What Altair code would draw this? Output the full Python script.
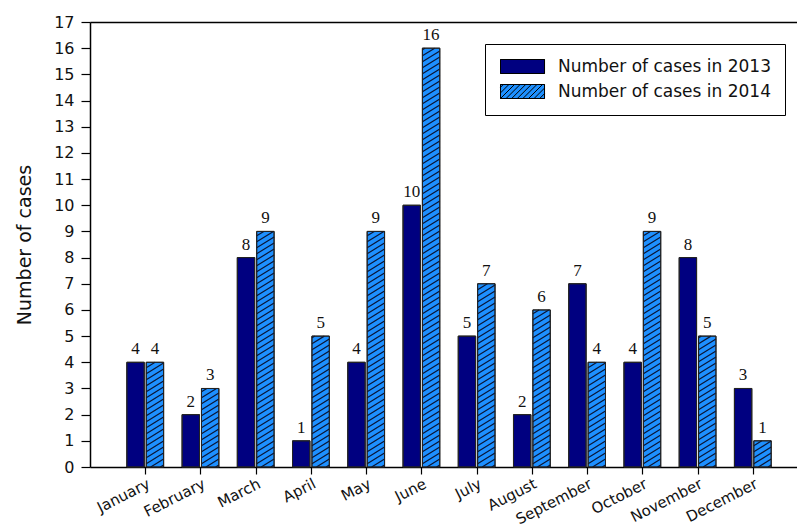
import json
import altair as alt
import pandas as pd

# ---------------- data ----------------
months = ["January", "February", "March", "April", "May", "June",
          "July", "August", "September", "October", "November", "December"]
cases_2013 = [4, 2, 8, 1, 4, 10, 5, 2, 7, 4, 8, 3]
cases_2014 = [4, 3, 9, 5, 9, 16, 7, 6, 4, 9, 5, 1]
series_names = ["Number of cases in 2013", "Number of cases in 2014"]
y_ticks = list(range(0, 18))

# ---------------- layout ----------------
W, H = 707, 445
X_MAX = 12.8
Y_MAX = 17
PX_X = W / X_MAX
PX_Y = H / Y_MAX
BAR_W = 0.315
GAP = 0.018

rows = []
for i, (m, a, b) in enumerate(zip(months, cases_2013, cases_2014), start=1):
    rows.append(dict(month=m, idx=i, series=series_names[0], value=a,
                     x0=i - GAP - BAR_W, x1=i - GAP))
    rows.append(dict(month=m, idx=i, series=series_names[1], value=b,
                     x0=i + GAP, x1=i + GAP + BAR_W))
bars = pd.DataFrame(rows)
bars["xc"] = (bars.x0 + bars.x1) / 2
bars["base"] = 0
bars["series_hatch"] = bars["series"]

# hatch lines ("/") inside the 2014 bars
SLOPE = 0.62     # pixel slope
SPACING = 6.0    # vertical pixel spacing
hatch = []
for r in bars[bars.series == series_names[1]].itertuples():
    w = (r.x1 - r.x0) * PX_X
    h = r.value * PX_Y
    c = -SLOPE * w + 2.0
    while c < h:
        lo = max(0.0, -c / SLOPE)
        hi = min(w, (h - c) / SLOPE)
        if hi - lo > 0.5:
            hatch.append(dict(hx0=r.x0 + lo / PX_X, hy0=(c + SLOPE * lo) / PX_Y,
                              hx1=r.x0 + hi / PX_X, hy1=(c + SLOPE * hi) / PX_Y))
        c += SPACING
hatch_df = pd.DataFrame(hatch)

# legend swatch paths (units: 1 = 7 px)
X_L, X_R = -1.0, 5.29
plain_path = f"M{X_L},-1H{X_R}V1H{X_L}Z"
segs = []
step = 0.8
x = X_L - 2 + step / 2
while x < X_R:
    xa, ya, xb, yb = x, 1.0, x + 2.0, -1.0
    if xa < X_L:
        ya = 1.0 - (X_L - xa)
        xa = X_L
    if xb > X_R:
        yb = -1.0 + (xb - X_R)
        xb = X_R
    if xb - xa > 0.05:
        segs.append(f"M{xa:.3f},{ya:.3f}L{xb:.3f},{yb:.3f}")
    x += step
hatched_path = plain_path + "".join(segs)

xscale = alt.Scale(domain=[0, X_MAX], nice=False, zero=False)
yscale = alt.Scale(domain=[0, Y_MAX], nice=False)

label_expr = json.dumps(months) + "[datum.value - 1]"

FONT = "DejaVu Sans"

x_axis = alt.Axis(values=list(range(1, 13)), labelExpr=label_expr, title=None,
                  grid=False, tickSize=7, tickColor="black", domainColor="black",
                  domainWidth=1.5, tickWidth=1.2, labelAngle=-27, labelAlign="right",
                  labelBaseline="top", labelPadding=2, labelFont=FONT,
                  labelFontSize=15, labelColor="#111", labelOverlap=False)
y_axis = alt.Axis(values=y_ticks, title="Number of cases", grid=False, tickSize=9,
                  tickColor="black", tickWidth=1.2, domainColor="black", domainWidth=1.5,
                  labelPadding=7, labelFont=FONT, labelFontSize=16, labelColor="#111",
                  titleFont=FONT, titleFontSize=19, titleFontWeight="normal",
                  titleColor="#111", titlePadding=19, labelOverlap=False)

LEG_COMMON = dict(orient="none", legendX=395, legendY=22, title=None, padding=14,
                  symbolSize=196, symbolStrokeWidth=1, symbolOpacity=1,
                  labelFont=FONT, labelFontSize=17, labelOffset=42, rowPadding=6,
                  labelLimit=400)

legend = alt.Legend(strokeColor="black", fillColor="white", symbolType=plain_path,
                    symbolStrokeColor="black", labelColor="#111", **LEG_COMMON)

hatch_legend = alt.Legend(symbolFillColor="transparent", symbolStrokeColor="black",
                          labelOpacity=0, **LEG_COMMON)

bar_layer = alt.Chart(bars).mark_bar(stroke="#222", strokeWidth=1, opacity=1).encode(
    x=alt.X("x0:Q", scale=xscale, axis=x_axis),
    x2="x1:Q",
    y=alt.Y("value:Q", scale=yscale, axis=y_axis),
    y2="base:Q",
    color=alt.Color("series:N",
                    scale=alt.Scale(domain=series_names, range=["#000080", "#1E90FF"]),
                    legend=legend),
)

hatch_layer = alt.Chart(hatch_df).mark_rule(color="#0a1535", strokeWidth=1.2).encode(
    x=alt.X("hx0:Q", scale=xscale, axis=None),
    x2="hx1:Q",
    y=alt.Y("hy0:Q", scale=yscale, axis=None),
    y2="hy1:Q",
)

outline_layer = alt.Chart(bars).mark_bar(fillOpacity=0, stroke="#222", strokeWidth=1).encode(
    x=alt.X("x0:Q", scale=xscale, axis=None),
    x2="x1:Q",
    y=alt.Y("value:Q", scale=yscale, axis=None),
    y2="base:Q",
)

# invisible layer whose only purpose is the striped overlay of the legend swatch
swatch_layer = alt.Chart(bars).mark_point(opacity=0, filled=False, color="black",
                                          strokeWidth=1).encode(
    x=alt.X("xc:Q", scale=xscale, axis=None),
    y=alt.Y("value:Q", scale=yscale, axis=None),
    shape=alt.Shape("series_hatch:N",
                    scale=alt.Scale(domain=series_names, range=[plain_path, hatched_path]),
                    legend=hatch_legend),
)

text_layer = alt.Chart(bars).mark_text(font="Liberation Serif", fontSize=17, dy=-8,
                                       baseline="alphabetic", color="#111").encode(
    x=alt.X("xc:Q", scale=xscale,
            axis=alt.Axis(orient="top", labels=False, ticks=False, title=None,
                          grid=False, domainColor="black", domainWidth=1.5)),
    y=alt.Y("value:Q", scale=yscale, axis=None),
    text="value:Q",
)

chart = alt.layer(bar_layer, hatch_layer, outline_layer, swatch_layer, text_layer).resolve_axis(
    x="independent", y="independent"
).resolve_legend(color="independent", shape="independent").properties(
    width=W, height=H,
    autosize=alt.AutoSizeParams(type="none"),
    padding={"left": 90, "top": 22, "right": 0, "bottom": 60},
    background="white",
).configure_view(strokeWidth=0)

chart.save("out.html", embed_options={"renderer": "svg", "actions": False})
